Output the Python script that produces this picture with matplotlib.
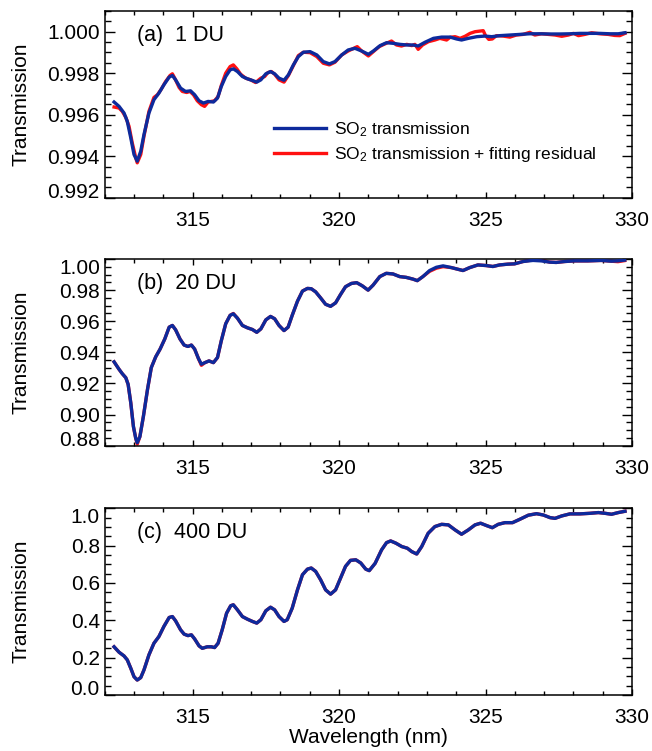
import matplotlib
matplotlib.use('Agg')
import matplotlib.pyplot as plt
from matplotlib.ticker import MultipleLocator, FixedLocator, FormatStrFormatter

plt.rcParams['font.family'] = ['Liberation Sans', 'DejaVu Sans']
plt.rcParams['mathtext.default'] = 'regular'

# ---- panel (a) 1 DU ----
wl_a = [312.32, 312.49, 312.66, 312.77, 312.89, 313.0, 313.11, 313.23, 313.34, 313.51,
        313.68, 313.85, 314.02, 314.2, 314.31, 314.42, 314.59, 314.76, 314.93, 315.07,
        315.22, 315.37, 315.53, 315.71, 315.85, 315.98, 316.13, 316.28, 316.39, 316.53,
        316.7, 316.87, 317.04, 317.19, 317.33, 317.5, 317.66, 317.8, 317.95, 318.12,
        318.27, 318.44, 318.61, 318.78, 319.01, 319.24, 319.46, 319.67, 319.86, 320.09,
        320.31, 320.54, 320.77, 321.0, 321.17, 321.4, 321.62, 321.85, 322.08, 322.31,
        322.53, 322.7, 322.93, 323.22, 323.5, 323.79, 324.01, 324.18, 324.41, 324.7,
        324.98, 325.21, 325.49, 325.83, 326.17, 326.51, 326.86, 327.2, 327.54, 327.88,
        328.22, 328.56, 328.9, 329.25, 329.53, 329.76]
trans_a = [0.99661, 0.99640, 0.99608, 0.99568, 0.99488, 0.99408, 0.99376, 0.99424, 0.99504, 0.99608,
           0.99672, 0.99704, 0.99744, 0.99781, 0.99789, 0.99768, 0.99728, 0.99712, 0.99715, 0.99696,
           0.99667, 0.99656, 0.99664, 0.99661, 0.99680, 0.99736, 0.99784, 0.99816, 0.99821, 0.99808,
           0.99784, 0.99773, 0.99765, 0.99757, 0.99768, 0.99797, 0.99808, 0.99797, 0.99776, 0.99766,
           0.99792, 0.99840, 0.99880, 0.99901, 0.99904, 0.99888, 0.99856, 0.99845, 0.99856, 0.99888,
           0.99912, 0.99920, 0.99907, 0.99891, 0.99907, 0.99933, 0.99947, 0.99944, 0.99939, 0.99936,
           0.99936, 0.99931, 0.99949, 0.99968, 0.99974, 0.99974, 0.99965, 0.99960, 0.99968, 0.99976,
           0.99979, 0.99976, 0.99981, 0.99984, 0.99987, 0.99990, 0.99990, 0.99989, 0.99989, 0.99990,
           0.99992, 0.99992, 0.99992, 0.99990, 0.99990, 0.99995]

wl_a_res = [312.32, 312.49, 312.6, 312.72, 312.83, 312.94, 313.06, 313.11, 313.23, 313.34,
            313.51, 313.68, 313.8, 313.93, 314.08, 314.23, 314.31, 314.39, 314.54, 314.65,
            314.8, 314.91, 315.03, 315.16, 315.3, 315.41, 315.53, 315.64, 315.75, 315.87,
            315.98, 316.13, 316.28, 316.39, 316.51, 316.64, 316.81, 316.98, 317.15, 317.33,
            317.46, 317.57, 317.69, 317.8, 317.95, 318.12, 318.27, 318.44, 318.61, 318.78,
            319.01, 319.24, 319.46, 319.67, 319.86, 320.09, 320.31, 320.5, 320.62, 320.77,
            321.0, 321.17, 321.37, 321.53, 321.79, 321.96, 322.13, 322.31, 322.48, 322.59,
            322.7, 322.85, 323.05, 323.27, 323.44, 323.67, 323.79, 323.96, 324.13, 324.3,
            324.47, 324.64, 324.81, 324.92, 325.0, 325.11, 325.23, 325.37, 325.6, 325.83,
            326.05, 326.28, 326.51, 326.68, 326.91, 327.14, 327.37, 327.6, 327.83, 328.0,
            328.17, 328.39, 328.62, 328.9, 329.19, 329.41, 329.58, 329.76]
trans_a_res = [0.99637, 0.99632, 0.99616, 0.99587, 0.99544, 0.99464, 0.99392, 0.99368, 0.99408, 0.99496,
               0.99616, 0.99683, 0.99696, 0.99723, 0.99760, 0.99789, 0.99797, 0.99776, 0.99731, 0.99712,
               0.99707, 0.99712, 0.99696, 0.99667, 0.99648, 0.99640, 0.99661, 0.99664, 0.99667, 0.99688,
               0.99741, 0.99800, 0.99832, 0.99840, 0.99821, 0.99795, 0.99776, 0.99768, 0.99755, 0.99776,
               0.99784, 0.99803, 0.99808, 0.99795, 0.99768, 0.99757, 0.99789, 0.99837, 0.99885, 0.99901,
               0.99899, 0.99880, 0.99848, 0.99840, 0.99853, 0.99888, 0.99907, 0.99920, 0.99928, 0.99907,
               0.99883, 0.99904, 0.99928, 0.99939, 0.99955, 0.99936, 0.99931, 0.99939, 0.99933, 0.99939,
               0.99915, 0.99936, 0.99952, 0.99960, 0.99968, 0.99960, 0.99973, 0.99976, 0.99968, 0.99978,
               0.99992, 1.00000, 1.00003, 1.00005, 0.99981, 0.99963, 0.99965, 0.99981, 0.99979, 0.99974,
               0.99984, 0.99987, 0.99997, 0.99984, 0.99990, 0.99987, 0.99984, 0.99978, 0.99984, 0.99992,
               0.99981, 0.99987, 0.99995, 0.99990, 0.99987, 0.99982, 0.99981, 0.99992]

# ---- panel (b) 20 DU ----
wl_b = [312.32, 312.49, 312.6, 312.72, 312.8, 312.89, 312.98, 313.06, 313.11, 313.2,
        313.32, 313.46, 313.59, 313.74, 313.89, 314.05, 314.2, 314.31, 314.42, 314.57,
        314.71, 314.84, 314.96, 315.07, 315.2, 315.3, 315.42, 315.56, 315.71, 315.85,
        315.98, 316.13, 316.28, 316.39, 316.53, 316.7, 316.87, 317.04, 317.19, 317.33,
        317.5, 317.66, 317.8, 317.95, 318.12, 318.26, 318.4, 318.58, 318.75, 318.92,
        319.05, 319.2, 319.37, 319.54, 319.71, 319.88, 320.05, 320.22, 320.42, 320.6,
        320.79, 320.99, 321.16, 321.39, 321.61, 321.84, 322.07, 322.29, 322.52, 322.67,
        322.86, 323.09, 323.32, 323.55, 323.83, 324.06, 324.23, 324.46, 324.74, 325.02,
        325.25, 325.48, 325.76, 325.99, 326.28, 326.62, 326.9, 327.19, 327.41, 327.7,
        328.04, 328.49, 328.95, 329.29, 329.52, 329.75]
trans_b = [0.9339, 0.9291, 0.9263, 0.9237, 0.9194, 0.9075, 0.8923, 0.8847, 0.8819, 0.8858,
           0.8988, 0.9161, 0.9302, 0.9371, 0.9421, 0.9486, 0.9562, 0.9573, 0.9545, 0.9486,
           0.9447, 0.9438, 0.9447, 0.9421, 0.9360, 0.9324, 0.9334, 0.9345, 0.9334, 0.9367,
           0.9475, 0.9584, 0.9638, 0.9648, 0.9620, 0.9573, 0.9558, 0.9547, 0.9529, 0.9551,
           0.9609, 0.9631, 0.9616, 0.9573, 0.9540, 0.9562, 0.9638, 0.9729, 0.9794, 0.9811,
           0.9809, 0.9789, 0.9750, 0.9709, 0.9696, 0.9718, 0.9772, 0.9822, 0.9843, 0.9848,
           0.9828, 0.9800, 0.9832, 0.9887, 0.9908, 0.9904, 0.9887, 0.9882, 0.9871, 0.9861,
           0.9887, 0.9926, 0.9947, 0.9956, 0.9945, 0.9934, 0.9926, 0.9945, 0.9962, 0.9958,
           0.9952, 0.9962, 0.9967, 0.9969, 0.9984, 0.9991, 0.9988, 0.9980, 0.9978, 0.9984,
           0.9988, 0.9988, 0.9991, 0.9986, 0.9988, 0.9993]
trans_b_res = [0.9339, 0.9291, 0.9263, 0.9237, 0.9194, 0.9075, 0.8923, 0.8847, 0.8810, 0.8858,
               0.8988, 0.9161, 0.9302, 0.9371, 0.9421, 0.9486, 0.9562, 0.9573, 0.9545, 0.9486,
               0.9447, 0.9438, 0.9447, 0.9421, 0.9360, 0.9317, 0.9334, 0.9345, 0.9334, 0.9367,
               0.9475, 0.9584, 0.9638, 0.9650, 0.9620, 0.9573, 0.9558, 0.9547, 0.9529, 0.9551,
               0.9609, 0.9631, 0.9616, 0.9573, 0.9540, 0.9562, 0.9638, 0.9729, 0.9794, 0.9811,
               0.9809, 0.9789, 0.9750, 0.9709, 0.9696, 0.9718, 0.9772, 0.9822, 0.9843, 0.9848,
               0.9828, 0.9800, 0.9832, 0.9887, 0.9908, 0.9904, 0.9887, 0.9882, 0.9871, 0.9861,
               0.9887, 0.9921, 0.9941, 0.9951, 0.9945, 0.9934, 0.9926, 0.9945, 0.9962, 0.9958,
               0.9952, 0.9962, 0.9967, 0.9969, 0.9984, 0.9995, 0.9993, 0.9980, 0.9978, 0.9984,
               0.9988, 0.9988, 0.9991, 0.9986, 0.9983, 0.9990]

# ---- panel (c) 400 DU ----
wl_c = [312.32, 312.49, 312.66, 312.77, 312.89, 313.0, 313.11, 313.23, 313.34, 313.51,
        313.68, 313.85, 314.02, 314.2, 314.31, 314.42, 314.59, 314.71, 314.84, 314.96,
        315.07, 315.22, 315.33, 315.5, 315.64, 315.75, 315.87, 316.01, 316.16, 316.3,
        316.39, 316.53, 316.7, 316.87, 317.04, 317.19, 317.33, 317.5, 317.66, 317.8,
        317.95, 318.12, 318.23, 318.4, 318.58, 318.75, 318.92, 319.05, 319.2, 319.37,
        319.54, 319.71, 319.88, 320.05, 320.22, 320.39, 320.57, 320.74, 320.91, 321.03,
        321.23, 321.45, 321.62, 321.76, 321.94, 322.14, 322.33, 322.48, 322.65, 322.82,
        323.04, 323.27, 323.5, 323.73, 323.96, 324.18, 324.41, 324.64, 324.83, 325.04,
        325.23, 325.43, 325.66, 325.92, 326.17, 326.46, 326.74, 326.97, 327.2, 327.37,
        327.6, 327.88, 328.22, 328.56, 328.85, 329.08, 329.3, 329.53, 329.76]
trans_c = [0.258, 0.229, 0.209, 0.188, 0.143, 0.098, 0.080, 0.093, 0.134, 0.215,
           0.277, 0.313, 0.367, 0.415, 0.420, 0.397, 0.349, 0.326, 0.318, 0.322,
           0.300, 0.263, 0.250, 0.258, 0.258, 0.254, 0.277, 0.349, 0.438, 0.478,
           0.483, 0.456, 0.420, 0.406, 0.394, 0.385, 0.403, 0.451, 0.470, 0.456,
           0.420, 0.394, 0.403, 0.465, 0.563, 0.644, 0.674, 0.680, 0.662, 0.617,
           0.563, 0.540, 0.563, 0.626, 0.689, 0.721, 0.724, 0.707, 0.674, 0.666,
           0.705, 0.777, 0.816, 0.825, 0.813, 0.795, 0.786, 0.768, 0.755, 0.795,
           0.866, 0.902, 0.914, 0.911, 0.884, 0.861, 0.884, 0.911, 0.920, 0.907,
           0.896, 0.914, 0.923, 0.923, 0.941, 0.963, 0.971, 0.964, 0.950, 0.946,
           0.959, 0.970, 0.970, 0.973, 0.977, 0.973, 0.968, 0.977, 0.984]
# red curve is indistinguishable from the blue one at 400 DU
trans_c_res = list(trans_c)

labels = ['(a)  1 DU', '(b)  20 DU', '(c)  400 DU']
ylims = [(0.992, 1.001), (0.88, 1.0), (0.0, 1.0)]
ymajor = [[0.992, 0.994, 0.996, 0.998, 1.000],
          [0.88, 0.90, 0.92, 0.94, 0.96, 0.98, 1.00],
          [0.0, 0.2, 0.4, 0.6, 0.8, 1.0]]
yminor = [0.0005, 0.005, 0.05]
yfmt = ['%.3f', '%.2f', '%.1f']

blue = '#0d2a9c'
red = '#ff1010'

fig = plt.figure(figsize=(6.52, 7.51), dpi=100)
bottoms = [0.7368, 0.4065, 0.0746]
axes = [fig.add_axes([0.1606, b, 0.8088, 0.2486]) for b in bottoms]

data = [(wl_a, trans_a, wl_a_res, trans_a_res),
        (wl_b, trans_b, wl_b, trans_b_res),
        (wl_c, trans_c, wl_c, trans_c_res)]

for i, ax in enumerate(axes):
    wl, tr, wlr, trr = data[i]
    ax.plot(wlr, trr, color=red, lw=2.4, label=r'SO$_2$ transmission + fitting residual', zorder=2)
    ax.plot(wl, tr, color=blue, lw=2.4, label=r'SO$_2$ transmission', zorder=3)
    ax.set_xlim(312, 330)
    ax.set_ylim(*ylims[i])
    ax.xaxis.set_major_locator(FixedLocator([315, 320, 325, 330]))
    ax.xaxis.set_minor_locator(MultipleLocator(1))
    ax.yaxis.set_major_locator(FixedLocator(ymajor[i]))
    ax.yaxis.set_minor_locator(MultipleLocator(yminor[i]))
    ax.yaxis.set_major_formatter(FormatStrFormatter(yfmt[i]))
    ax.tick_params(which='both', direction='in', top=True, right=True, width=1.0, labelsize=15)
    ax.tick_params(axis='y', which='major', length=7, pad=3.5)
    ax.tick_params(axis='y', which='minor', length=4)
    ax.tick_params(axis='x', which='major', length=4.5, pad=9.5)
    ax.tick_params(axis='x', which='minor', length=3)
    for s in ax.spines.values():
        s.set_linewidth(1.1)
    ax.set_ylabel('Transmission', fontsize=15)
    ax.yaxis.set_label_coords(-0.14, 0.5)
    ax.text(0.061, 0.87, labels[i], transform=ax.transAxes, fontsize=15.5, va='center', ha='left')
    # keep end labels inside the axis box
    tl = ax.get_yticklabels()
    lo, hi = ylims[i]
    if abs(ymajor[i][0] - lo) < 1e-9:
        tl[0].set_va('baseline')
    if abs(ymajor[i][-1] - hi) < 1e-9:
        tl[-1].set_va('top')

h, l = axes[0].get_legend_handles_labels()
axes[0].legend(h[::-1], l[::-1], loc='center left', bbox_to_anchor=(0.321, 0.296),
               frameon=False, fontsize=12.5, handlelength=3.0, handletextpad=0.45,
               labelspacing=0.35, borderpad=0, borderaxespad=0)

axes[2].set_xlabel('Wavelength (nm)', fontsize=15)
axes[2].xaxis.set_label_coords(0.5, -0.178)

fig.savefig('out.png', dpi=100)
